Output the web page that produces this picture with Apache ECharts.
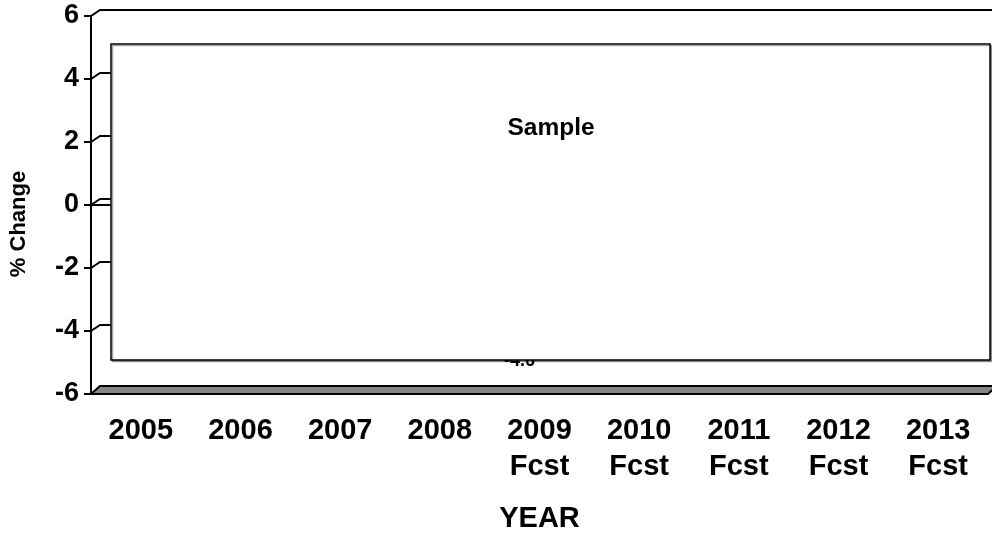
<!DOCTYPE html>
<html>
<head>
<meta charset="utf-8">
<script src="https://cdn.jsdelivr.net/npm/echarts@6/dist/echarts.min.js"></script>
<style>
html,body{margin:0;padding:0;background:#fff;}
#chart{width:992px;height:538px;}
</style>
</head>
<body>
<div id="chart"></div>
<script>
// ---- data ----
const categories = ['2005', '2006', '2007', '2008', '2009\nFcst', '2010\nFcst', '2011\nFcst', '2012\nFcst', '2013\nFcst'];
// only the 2009 forecast value is visible (others hidden behind the "Sample" box)
const changeValues = [null, null, null, null, -4.6, null, null, null, null];
const yTickValues = [-6, -4, -2, 0, 2, 4, 6];
const yMin = -6, yMax = 6, yInterval = 2;
const yAxisTitle = '% Change';
const xAxisTitle = 'YEAR';
const overlayText = 'Sample';

const FONT = '"Liberation Sans", Arial, sans-serif';
const GRID_LEFT = 91, GRID_RIGHT = 4, GRID_TOP = 16, GRID_BOTTOM = 143;
const DX = 9, DY = -6; // 3D depth offset

const chart = echarts.init(document.getElementById('chart'), null, {renderer: 'canvas'});

const option = {
  animation: false,
  backgroundColor: '#fff',
  grid: {left: GRID_LEFT, right: GRID_RIGHT, top: GRID_TOP, bottom: GRID_BOTTOM, containLabel: false},
  xAxis: {
    type: 'category',
    data: categories,
    boundaryGap: true,
    axisLine: {lineStyle: {color: '#000', width: 2}},
    axisTick: {show: true, alignWithLabel: false, length: 8, lineStyle: {color: '#000', width: 2}},
    axisLabel: {
      interval: 0, margin: 19, color: '#000', fontFamily: FONT, fontWeight: 'bold',
      fontSize: 29, lineHeight: 36
    },
    splitLine: {show: false},
    name: xAxisTitle,
    nameLocation: 'middle',
    nameGap: 110,
    nameTextStyle: {color: '#000', fontFamily: FONT, fontWeight: 'bold', fontSize: 29}
  },
  yAxis: {
    type: 'value',
    min: yMin, max: yMax, interval: yInterval,
    axisLine: {show: true, lineStyle: {color: '#000', width: 2}},
    axisTick: {show: true, length: 7, lineStyle: {color: '#000', width: 2}},
    axisLabel: {margin: 12, color: '#000', fontFamily: FONT, fontWeight: 'bold', fontSize: 27},
    splitLine: {show: false}
  },
  series: [{
    type: 'bar',
    data: changeValues,
    barWidth: '60%',
    itemStyle: {color: '#808080'},
    z: 2,
    label: {
      show: true, position: 'bottom', distance: 0, offset: [-20, 2],
      color: '#000', fontFamily: FONT, fontWeight: 'bold', fontSize: 18,
      formatter: p => p.value == null ? '' : p.value.toFixed(1)
    }
  }]
};
chart.setOption(option);

// 3D decorations computed from the axis scale
const W = chart.getWidth();
const xL = GRID_LEFT, xR = W - GRID_RIGHT;
const els = [];
yTickValues.forEach(v => {
  const y = chart.convertToPixel({yAxisIndex: 0}, v);
  const xEnd = v === yMax ? xR + DX : 989;
  els.push({
    type: 'polyline', z: 5, silent: true,
    shape: {points: [[xL, y], [xL + DX, y + DY], [xEnd, y + DY]]},
    style: {stroke: '#000', lineWidth: 2, fill: null}
  });
});
const yb = chart.convertToPixel({yAxisIndex: 0}, yMin);
els.push({
  type: 'polygon', z: 6, silent: true,
  shape: {points: [[xL, yb], [xL + DX, yb - 8], [xR + DX, yb - 8], [xR, yb]]},
  style: {fill: '#858585', stroke: '#000', lineWidth: 2}
});
// overlay "Sample" box
els.push({
  type: 'rect', z: 100, silent: true,
  shape: {x: 111, y: 44, width: 879, height: 316},
  style: {fill: '#fff', stroke: '#000', lineWidth: 1.5, shadowColor: 'rgba(0,0,0,0.35)', shadowOffsetX: 1.5, shadowOffsetY: 1.5, shadowBlur: 0}
});
els.push({
  type: 'text', z: 101, silent: true,
  x: 551, y: 128,
  style: {text: overlayText, fill: '#000', font: 'bold 24.5px ' + FONT, textAlign: 'center', textVerticalAlign: 'middle'}
});
els.push({
  type: 'text', z: 101, silent: true,
  x: 19, y: 224, rotation: Math.PI / 2,
  style: {text: yAxisTitle, fill: '#000', font: 'bold 22px ' + FONT, textAlign: 'center', textVerticalAlign: 'middle'}
});
chart.setOption({graphic: {elements: els}});
</script>
</body>
</html>
